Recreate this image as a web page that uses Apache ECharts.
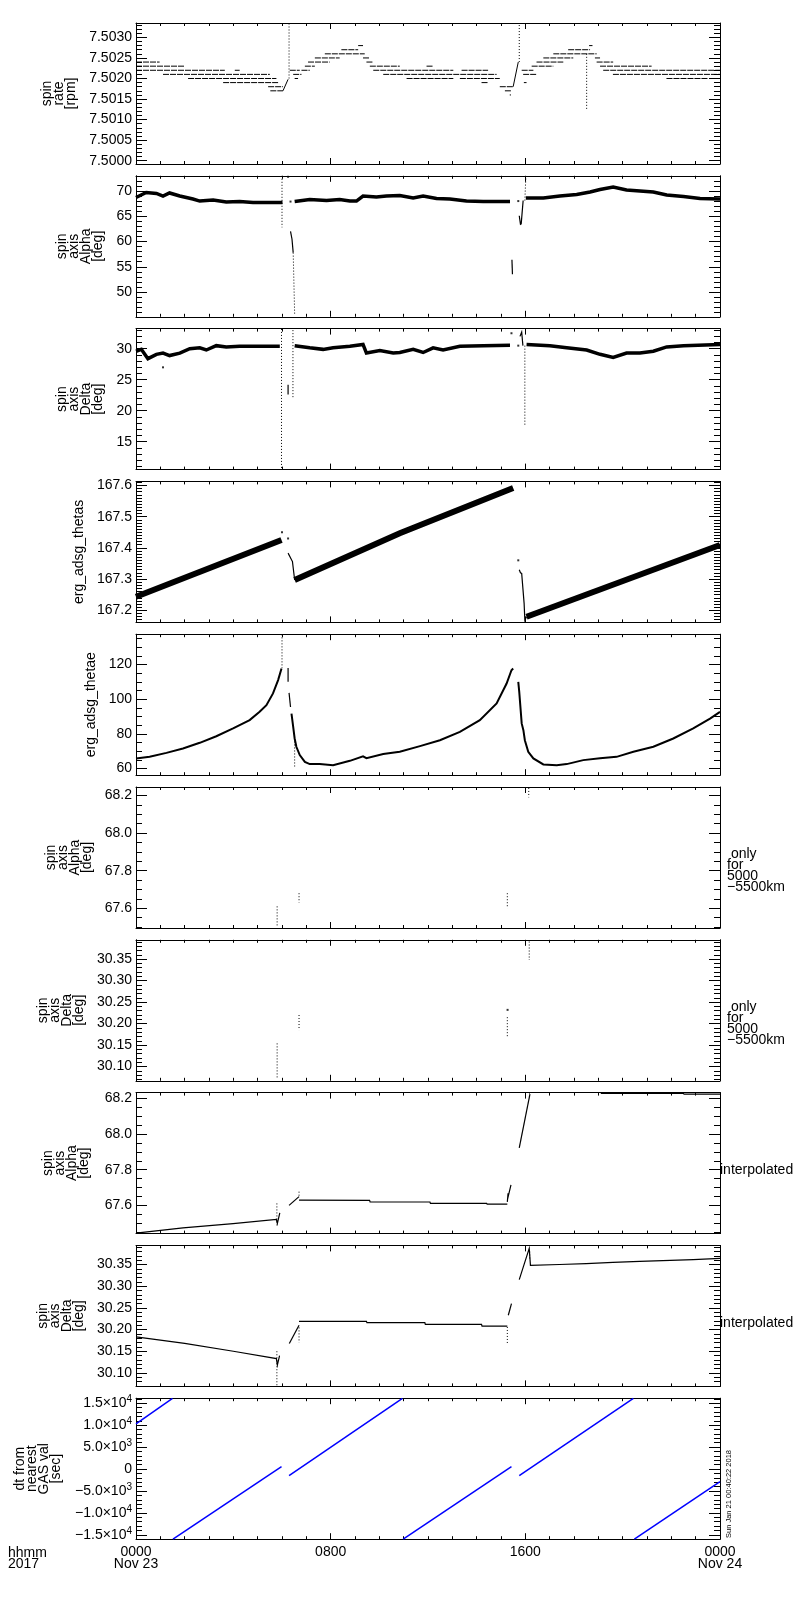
<!DOCTYPE html>
<html lang="en">
<head>
    <meta charset="UTF-8">
    <title>ERG spin axis / GAS</title>
    <style>
        html, body { margin: 0; padding: 0; background: #fff; }
    </style>
</head>
<body>
<div id="main" style="width: 800px;height:1600px;"></div>

<script src="https://cdn.jsdelivr.net/npm/echarts@6/dist/echarts.min.js"></script>
<script>
    // time is in hours from 2017-11-23 00:00
    var timeTicks = [0, 8, 16, 24];
    var timeLabels = {0: '0000\nNov 23', 8: '0800', 16: '1600', 24: '0000\nNov 24'};

    // tick labels of each panel
    var spinRateTicks = [7.5000, 7.5005, 7.5010, 7.5015, 7.5020, 7.5025, 7.5030];
    var alphaTicks = [50, 55, 60, 65, 70];
    var deltaTicks = [15, 20, 25, 30];
    var thetasTicks = [167.2, 167.3, 167.4, 167.5, 167.6];
    var thetaeTicks = [60, 80, 100, 120];
    var alphaFineTicks = [67.6, 67.8, 68.0, 68.2];
    var deltaFineTicks = [30.10, 30.15, 30.20, 30.25, 30.30, 30.35];
    var dtTicks = [-15000, -10000, -5000, 0, 5000, 10000, 15000];

    // panel 1: spin rate, quantized levels [rpm, from hour, to hour]
    var spinRateLevels = [
        [7.5024, 0.00, 0.97], [7.5023, 0.00, 2.00], [7.5022, 0.00, 3.65], [7.5022, 4.06, 4.26],
        [7.5021, 1.11, 5.50], [7.5020, 2.14, 5.77], [7.5019, 3.58, 5.84], [7.5018, 5.43, 6.04],
        [7.5017, 5.52, 6.04], [7.5022, 6.32, 6.73], [7.5021, 6.46, 6.80], [7.5020, 6.52, 6.66],
        [7.5022, 6.80, 7.14], [7.5023, 6.94, 7.35], [7.5024, 7.07, 7.96], [7.5025, 7.35, 8.37],
        [7.5026, 7.76, 9.40], [7.5027, 8.44, 9.13], [7.5028, 9.13, 9.33], [7.5025, 9.33, 9.61],
        [7.5024, 9.47, 9.75], [7.5023, 9.61, 10.84], [7.5023, 11.94, 12.21], [7.5022, 9.75, 13.04],
        [7.5022, 13.38, 14.47], [7.5021, 10.16, 14.82], [7.5020, 11.12, 13.04], [7.5020, 13.31, 14.95],
        [7.5019, 14.20, 14.47], [7.5018, 14.95, 15.50], [7.5017, 15.16, 15.43], [7.5016, 15.36, 15.41],
        [7.5022, 15.85, 16.33], [7.5021, 15.91, 16.46], [7.5019, 15.94, 16.05], [7.5023, 16.26, 17.15],
        [7.5024, 16.46, 17.56], [7.5025, 16.74, 17.97], [7.5026, 17.15, 18.93], [7.5027, 17.76, 18.66],
        [7.5028, 18.62, 18.76], [7.5025, 18.86, 19.07], [7.5024, 18.93, 19.61], [7.5023, 19.07, 21.19],
        [7.5022, 19.20, 24.00], [7.5021, 19.60, 24.00], [7.5020, 21.80, 23.50]
    ];
    var spinRateRamps = [
        [[6.04, 7.5017], [6.25, 7.50198]],
        [[15.50, 7.5018], [15.71, 7.5024]]
    ];
    var spinRateSpikes = [
        [[6.29, 7.5020], [6.29, 7.50333]],
        [[15.75, 7.5024], [15.75, 7.50334]],
        [[18.52, 7.5026], [18.52, 7.50124]]
    ];

    // panel 2: spin axis alpha
    var alphaBands = [
        [[0, 68.7], [0.42, 69.7], [0.84, 69.5], [1.11, 69.0], [1.38, 69.6], [1.8, 69.0], [2.34, 68.4],
         [2.62, 68.0], [3.17, 68.2], [3.71, 67.8], [4.26, 67.9], [4.81, 67.7], [6.02, 67.7]],
        [[6.52, 67.9], [7.14, 68.3], [7.83, 68.1], [8.37, 68.3], [8.79, 68.0], [9.06, 68.0], [9.33, 69.0],
         [9.88, 68.8], [10.29, 69.0], [10.84, 69.1], [11.39, 68.6], [11.8, 69.0], [12.35, 68.5],
         [12.9, 68.4], [13.58, 68.0], [14.27, 67.9], [15.37, 67.9]],
        [[16.02, 68.6], [16.74, 68.6], [17.42, 69.0], [18.11, 69.3], [18.66, 69.8], [19.07, 70.3],
         [19.61, 70.8], [20.16, 70.2], [20.71, 70.0], [21.26, 69.8], [21.81, 69.2], [22.5, 68.9],
         [23.18, 68.5], [24, 68.4]]
    ];
    var alphaThin = [
        [[6.35, 62.0], [6.41, 60.5], [6.46, 57.8]],
        [[15.45, 56.4], [15.47, 53.5]],
        [[15.75, 65.1], [15.80, 63.4], [15.83, 63.5], [15.91, 68.1]]
    ];
    var alphaSpikes = [
        [[6.00, 73.0], [6.00, 62.8]],
        [[6.46, 57.8], [6.52, 45.6]],
        [[15.98, 68.1], [16.02, 72.6]]
    ];
    var alphaDots = [[6.25, 72.8], [6.35, 67.9], [15.71, 68.0]];

    // panel 3: spin axis delta
    var deltaBands = [
        [[0, 29.6], [0.22, 29.9], [0.49, 28.4], [0.84, 29.1], [1.11, 29.3], [1.38, 28.9], [1.8, 29.3],
         [2.21, 30.0], [2.62, 30.15], [2.89, 29.8], [3.3, 30.5], [3.71, 30.3], [4.26, 30.4],
         [5.36, 30.4], [5.91, 30.4]],
        [[6.52, 30.5], [7.14, 30.15], [7.69, 29.9], [8.1, 30.15], [8.79, 30.4], [9.33, 30.7],
         [9.47, 29.3], [10.02, 29.7], [10.57, 29.3], [10.84, 29.4], [11.39, 29.9], [11.8, 29.4],
         [12.21, 30.15], [12.62, 29.8], [13.31, 30.4], [14.27, 30.5], [15.37, 30.55]],
        [[16.05, 30.7], [17.01, 30.5], [17.7, 30.15], [18.52, 29.8], [19.07, 29.1], [19.61, 28.6],
         [20.16, 29.3], [20.71, 29.3], [21.26, 29.6], [21.81, 30.3], [22.5, 30.5], [24, 30.7]]
    ];
    var deltaThin = [
        [[6.25, 24.2], [6.25, 22.6]],
        [[15.78, 32.0], [15.85, 32.7], [15.90, 30.5]]
    ];
    var deltaSpikes = [
        [[5.98, 33.2], [5.98, 10.6]],
        [[6.45, 33.0], [6.45, 22.0]],
        [[15.98, 30.5], [15.98, 17.55]]
    ];
    var deltaDots = [[1.11, 27.0], [15.43, 32.5], [15.71, 30.5]];

    // panel 4: erg_adsg_thetas
    var thetasBands = [
        [[0, 167.243], [5.98, 167.425]],
        [[6.52, 167.297], [10.84, 167.447], [15.5, 167.592]],
        [[16.05, 167.179], [24, 167.409]]
    ];
    var thetasThin = [
        [[6.25, 167.383], [6.43, 167.356], [6.52, 167.297]],
        [[15.75, 167.33], [15.80, 167.32], [15.85, 167.318], [15.95, 167.222], [15.98, 167.168], [16.05, 167.179]]
    ];
    var thetasDots = [[6.00, 167.45], [6.25, 167.43], [15.71, 167.36]];

    // panel 5: erg_adsg_thetae
    var thetaeCurves = [
        [[0, 65.8], [0.56, 66.7], [1.25, 69.0], [1.93, 71.5], [2.62, 74.8], [3.3, 78.6], [3.99, 83.1],
         [4.67, 87.9], [5.08, 92.7], [5.36, 96.5], [5.63, 103.3], [5.84, 111.0], [5.98, 117.7]],
        [[6.39, 91.7], [6.46, 84.0], [6.52, 77.3], [6.59, 72.5], [6.73, 67.7], [6.94, 63.8], [7.14, 62.5],
         [7.55, 62.5], [8.1, 61.9], [8.79, 64.4], [9.33, 67.0], [9.47, 65.9], [10.16, 68.3], [10.84, 69.6],
         [11.67, 72.9], [12.49, 76.3], [13.31, 81.1], [14.13, 87.9], [14.82, 97.5], [15.23, 109],
         [15.43, 116.7], [15.5, 117.7]],
        [[15.71, 110], [15.75, 104.2], [15.85, 86], [15.92, 82.1], [15.98, 76.3], [16.12, 69.6],
         [16.33, 65.8], [16.74, 62.3], [17.29, 61.9], [17.7, 62.5], [18.38, 64.8], [19.07, 65.9],
         [19.75, 66.7], [20.44, 69.6], [21.26, 72.5], [22.08, 77.3], [22.9, 83.1], [23.59, 88.8], [24, 92.7]]
    ];
    var thetaeThin = [
        [[6.25, 118], [6.25, 110]],
        [[6.29, 103.6], [6.35, 95.5]]
    ];
    var thetaeSpikes = [
        [[6.00, 137.4], [6.00, 118]],
        [[6.52, 77.3], [6.52, 60]]
    ];

    // panel 6 / 7: only for 5000-5500km
    var alphaShellMarks = [
        [[5.80, 67.61], [5.80, 67.50]],
        [[6.70, 67.68], [6.70, 67.63]],
        [[15.26, 67.68], [15.26, 67.60]],
        [[16.14, 68.24], [16.14, 68.19]]
    ];
    var deltaShellMarks = [
        [[5.80, 30.154], [5.80, 30.073]],
        [[6.70, 30.220], [6.70, 30.185]],
        [[15.26, 30.215], [15.26, 30.17]],
        [[16.16, 30.391], [16.16, 30.348]]
    ];
    var deltaShellDots = [[15.27, 30.232]];

    // panel 8: alpha interpolated
    var alphaInterp = [
        [[0, 67.445], [1.93, 67.474], [3.99, 67.498], [5.77, 67.521], [5.81, 67.499], [5.91, 67.558]],
        [[6.29, 67.60], [6.70, 67.649]],
        [[6.70, 67.630], [9.60, 67.628], [9.62, 67.619], [12.08, 67.619], [12.10, 67.611], [14.41, 67.611],
         [14.43, 67.607], [15.26, 67.607]],
        [[15.26, 67.62], [15.29, 67.668], [15.27, 67.635], [15.41, 67.715]],
        [[15.75, 67.922], [16.19, 68.223]],
        [[19.10, 68.228], [22.50, 68.228], [22.52, 68.223], [24, 68.223]]
    ];
    var alphaInterpSpikes = [
        [[5.79, 67.611], [5.79, 67.48]],
        [[6.70, 67.677], [6.70, 67.649]],
        [[16.17, 68.232], [16.17, 68.20]]
    ];

    // panel 9: delta interpolated
    var deltaInterp = [
        [[0, 30.183], [2, 30.168], [4, 30.150], [5.77, 30.133], [5.81, 30.118], [5.90, 30.140]],
        [[6.30, 30.168], [6.70, 30.210]],
        [[6.70, 30.219], [9.47, 30.219], [9.49, 30.216], [11.87, 30.216], [11.89, 30.212], [14.20, 30.212],
         [14.22, 30.208], [15.26, 30.208]],
        [[15.30, 30.233], [15.43, 30.260]],
        [[15.75, 30.315], [16.16, 30.387], [16.21, 30.348], [17.40, 30.350], [18.50, 30.352],
         [19.60, 30.355], [20.70, 30.357], [22.90, 30.361], [24, 30.364]]
    ];
    var deltaInterpSpikes = [
        [[5.79, 30.15], [5.79, 30.07]],
        [[6.70, 30.205], [6.70, 30.17]],
        [[15.26, 30.206], [15.26, 30.168]],
        [[16.18, 30.38], [16.18, 30.36]]
    ];

    // panel 10: dt from nearest GAS value [sec]
    var dtRamps = [
        [[0, 10300], [1.50, 16100]],
        [[1.52, -15950], [5.98, 556]],
        [[6.29, -1490], [10.95, 16100]],
        [[10.98, -15950], [15.43, 556]],
        [[15.75, -1490], [20.44, 16100]],
        [[20.48, -15950], [24, -2860]]
    ];

    var FONT = 'Liberation Sans, Arial, sans-serif';

    function fixed(d) {
        return function (v) { return v.toFixed(d); };
    }
    function sciLabel(v) {
        if (v === 0) return '0';
        var sign = v < 0 ? '\u2212' : '';
        var a = Math.abs(v);
        var e = Math.floor(Math.log10(a) + 1e-9);
        return sign + (a / Math.pow(10, e)).toFixed(1) + '\u00d710{sup|' + e + '}';
    }
    function stepTicks(min, max, step) {
        var res = [];
        for (var k = Math.ceil(min / step - 1e-9); k * step <= max + 1e-9; k++) {
            res.push(+(k * step).toFixed(6));
        }
        return res;
    }

    var panels = [
        {name: 'spin\nrate\n[rpm]', gap: 57, min: 7.49992, max: 7.50335, ticks: spinRateTicks, minor: 0.0001, fmt: fixed(4)},
        {name: 'spin\naxis\nAlpha\n[deg]', gap: 29, min: 45.1, max: 73.0, ticks: alphaTicks, minor: 1, fmt: fixed(0)},
        {name: 'spin\naxis\nDelta\n[deg]', gap: 29, min: 10.5, max: 33.25, ticks: deltaTicks, minor: 1, fmt: fixed(0)},
        {name: 'erg_adsg_thetas', gap: 51, min: 167.161, max: 167.613, ticks: thetasTicks, minor: 0.01, fmt: fixed(1)},
        {name: 'erg_adsg_thetae', gap: 39, min: 56.1, max: 137.5, ticks: thetaeTicks, minor: 5, fmt: fixed(0)},
        {name: 'spin\naxis\nAlpha\n[deg]', gap: 43, min: 67.495, max: 68.245, ticks: alphaFineTicks, minor: 0.05, fmt: fixed(1)},
        {name: 'spin\naxis\nDelta\n[deg]', gap: 51, min: 30.067, max: 30.395, ticks: deltaFineTicks, minor: 0.01, fmt: fixed(2)},
        {name: 'spin\naxis\nAlpha\n[deg]', gap: 46, min: 67.442, max: 68.232, ticks: alphaFineTicks, minor: 0.05, fmt: fixed(1)},
        {name: 'spin\naxis\nDelta\n[deg]', gap: 51, min: 30.069, max: 30.394, ticks: deltaFineTicks, minor: 0.01, fmt: fixed(2)},
        {name: 'dt from\nnearest\nGAS val\n[sec]', gap: 74, min: -15980, max: 16140, ticks: dtTicks, minor: 1000, fmt: sciLabel}
    ];

    var TOP = 23, STEP = 152.8, HEIGHT = 141;
    var grids = [], xAxes = [], yAxes = [];
    var black = {color: '#000', width: 1};

    panels.forEach(function (p, i) {
        grids.push({left: 136, width: 584, top: TOP + STEP * i, height: HEIGHT});
        var last = i === panels.length - 1;
        ['bottom', 'top'].forEach(function (pos) {
            xAxes.push({
                type: 'value', gridIndex: i, position: pos, min: 0, max: 24, interval: 8,
                axisLine: {show: true, onZero: false, lineStyle: black},
                axisTick: {show: true, inside: true, length: 6, lineStyle: black},
                minorTick: {show: true, splitNumber: 8, length: 3, lineStyle: black},
                splitLine: {show: false},
                axisLabel: {
                    show: last && pos === 'bottom', margin: 7, color: '#000',
                    fontFamily: FONT, fontSize: 14, lineHeight: 12,
                    formatter: function (v) { return timeLabels[v] || ''; }
                }
            });
        });
        var minorTicks = stepTicks(p.min, p.max, p.minor);
        ['left', 'right'].forEach(function (pos) {
            yAxes.push({
                type: 'value', gridIndex: i, position: pos, min: p.min, max: p.max,
                axisLine: {show: true, onZero: false, lineStyle: black},
                axisTick: {show: true, inside: true, length: 11, customValues: p.ticks, lineStyle: black},
                splitLine: {show: false},
                axisLabel: {
                    show: pos === 'left', customValues: p.ticks, formatter: p.fmt, margin: 4,
                    color: '#000', fontFamily: FONT, fontSize: 14,
                    rich: {sup: {fontSize: 10, fontFamily: FONT, color: '#000', padding: [0, 0, 8, 0]}}
                },
                name: pos === 'left' ? p.name : '',
                nameLocation: 'middle', nameRotate: 90, nameGap: p.gap,
                nameTextStyle: {color: '#000', fontFamily: FONT, fontSize: 14, lineHeight: 12}
            });
            yAxes.push({
                type: 'value', gridIndex: i, position: pos, min: p.min, max: p.max,
                axisLine: {show: false, onZero: false},
                axisTick: {show: true, inside: true, length: 6, customValues: minorTicks, lineStyle: black},
                splitLine: {show: false},
                axisLabel: {show: false}
            });
        });
    });

    function lines(panel, segs, width, type, color) {
        return {
            type: 'lines', coordinateSystem: 'cartesian2d', polyline: true, silent: true,
            xAxisIndex: panel * 2, yAxisIndex: panel * 4,
            lineStyle: {color: color || '#000', width: width, type: type || 'solid', opacity: 1},
            data: segs.map(function (c) { return {coords: c}; })
        };
    }
    function dots(panel, pts) {
        return {
            type: 'scatter', silent: true, xAxisIndex: panel * 2, yAxisIndex: panel * 4,
            symbol: 'rect', symbolSize: 2, itemStyle: {color: '#000'}, data: pts
        };
    }

    var levelSegs = spinRateLevels.map(function (l) { return [[l[1], l[0]], [l[2], l[0]]]; });
    var DOT = [1, 2];

    var series = [
        lines(0, levelSegs, 1, [6, 1]),
        lines(0, spinRateRamps, 1),
        lines(0, spinRateSpikes, 1, DOT),
        lines(1, alphaBands, 3.5),
        lines(1, alphaThin, 1.2),
        lines(1, alphaSpikes, 1, DOT),
        dots(1, alphaDots),
        lines(2, deltaBands, 3.5),
        lines(2, deltaThin, 1.2),
        lines(2, deltaSpikes, 1, DOT),
        dots(2, deltaDots),
        lines(3, thetasBands, 6),
        lines(3, thetasThin, 1.2),
        dots(3, thetasDots),
        lines(4, thetaeCurves, 2),
        lines(4, thetaeThin, 1.2),
        lines(4, thetaeSpikes, 1, DOT),
        lines(5, alphaShellMarks, 1, DOT),
        lines(6, deltaShellMarks, 1, DOT),
        dots(6, deltaShellDots),
        lines(7, alphaInterp, 1.2),
        lines(7, alphaInterpSpikes, 1, DOT),
        lines(8, deltaInterp, 1.2),
        lines(8, deltaInterpSpikes, 1, DOT),
        lines(9, dtRamps, 1.5, 'solid', '#0000ff')
    ];

    function panelMid(i) { return TOP + STEP * i + HEIGHT / 2; }
    var txt = {fill: '#000', fontFamily: FONT, fontSize: 14, lineHeight: 11};

    var chart = echarts.init(document.getElementById('main'), null, {renderer: 'canvas'});
    chart.setOption({
        backgroundColor: '#fff',
        animation: false,
        grid: grids,
        xAxis: xAxes,
        yAxis: yAxes,
        series: series,
        graphic: [
            {type: 'text', left: 8, top: 1546, style: Object.assign({text: 'hhmm\n2017', lineHeight: 12}, txt)},
            {type: 'text', x: 727, y: panelMid(5) - 9, style: Object.assign({text: ' only\nfor\n5000\n\u22125500km'}, txt)},
            {type: 'text', x: 727, y: panelMid(6) - 9, style: Object.assign({text: ' only\nfor\n5000\n\u22125500km'}, txt)},
            {type: 'text', x: 720, y: panelMid(7) + 2, style: Object.assign({text: 'interpolated'}, txt)},
            {type: 'text', x: 720, y: panelMid(8) + 2, style: Object.assign({text: 'interpolated'}, txt)},
            {type: 'text', x: 729, y: 1538, rotation: Math.PI / 2,
             style: {text: 'Sun Jan 21 00:40:22 2018', fill: '#000', fontFamily: FONT, fontSize: 7.5,
                     textAlign: 'left', textVerticalAlign: 'middle'}}
        ]
    });
</script>
</body>
</html>
